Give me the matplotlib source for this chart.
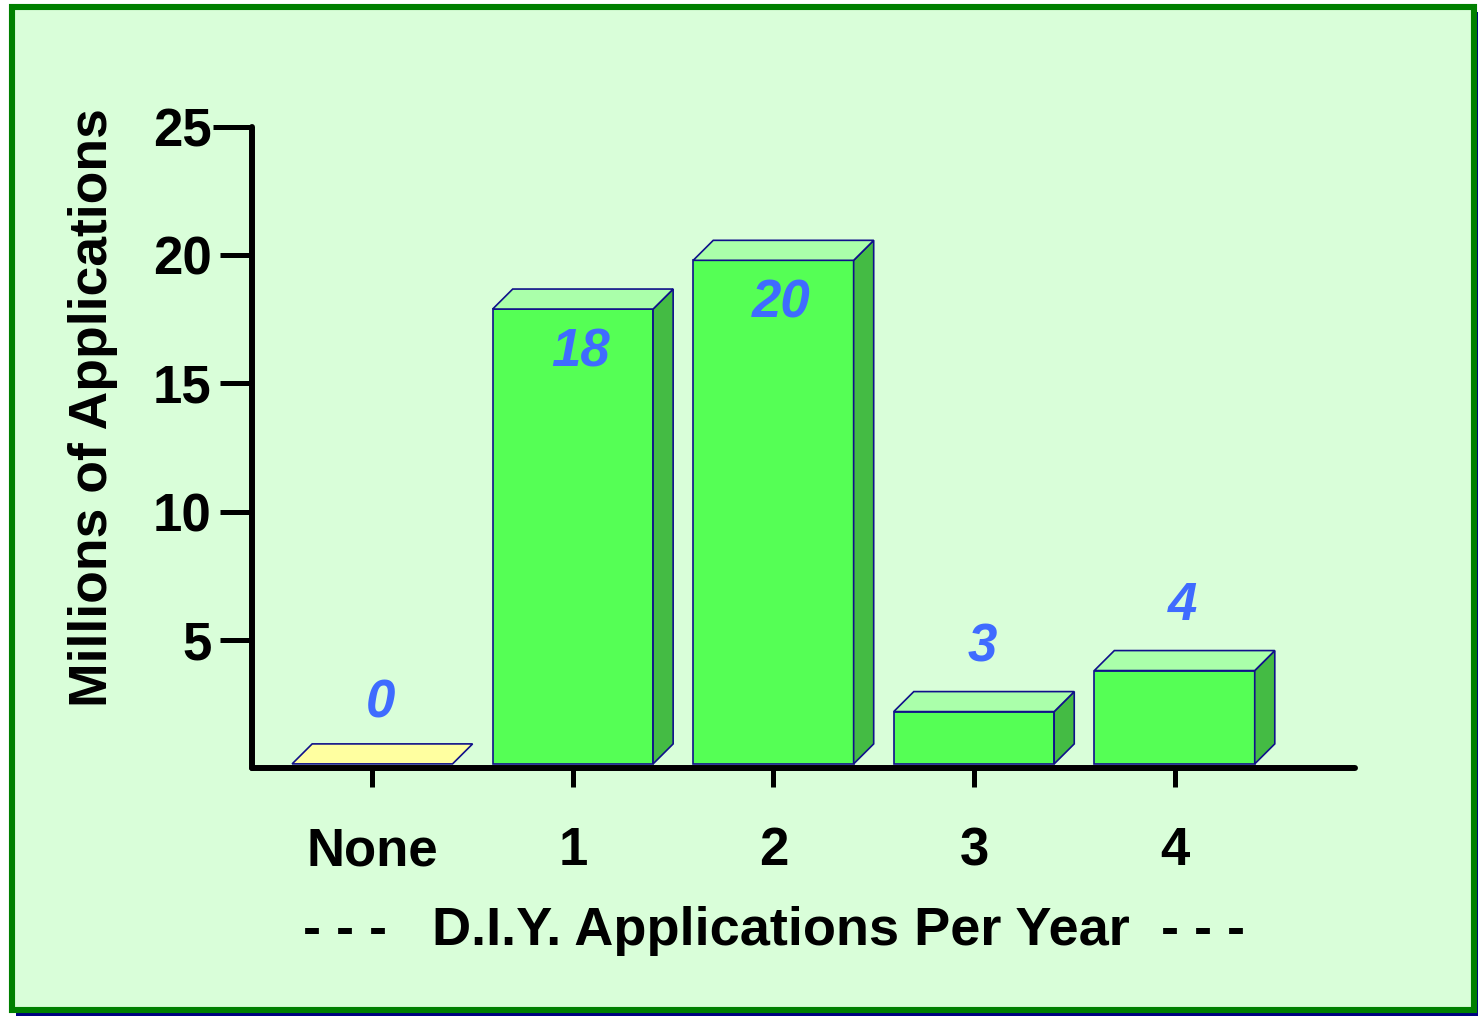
import matplotlib
matplotlib.use("Agg")
import matplotlib.pyplot as plt
from matplotlib.patches import Rectangle, Polygon

# ---- data ----
categories = ["None", "1", "2", "3", "4"]
bar_heights = [0.0, 17.9, 19.8, 2.2, 3.8]   # bar tops as drawn
value_labels = ["0", "18", "20", "3", "4"]   # printed values
label_inside = [False, True, True, False, False]
y_ticks = [5, 10, 15, 20, 25]
x_title = "D.I.Y. Applications Per Year"
x_title_deco = "- - -"
y_title = "Millions of Applications"

W, H, DPI = 1479, 1017, 100
FONT = "Liberation Sans"
plt.rcParams['font.family'] = [FONT, 'DejaVu Sans']

fig = plt.figure(figsize=(W / DPI, H / DPI), dpi=DPI, facecolor="white")

px = lambda x: x / W
py = lambda y: 1 - y / H
shadow = Rectangle((px(16), py(1016)), px(1478 - 16), (1016 - 12) / H,
                   transform=fig.transFigure, facecolor="#000080",
                   edgecolor="none", zorder=0)
panel = Rectangle((px(12), py(1009.5)), px(1474 - 12), (1009.5 - 7) / H,
                  transform=fig.transFigure, facecolor="#D9FED9",
                  edgecolor="#008000", linewidth=4.4, zorder=1)
fig.patches.extend([shadow, panel])

ax = fig.add_axes([252 / W, (H - 768) / H, (1355 - 252) / W, (768 - 127) / H])
ax.set_facecolor("none")
ax.set_zorder(2)
ax.set_xlim(-0.6, 4.9)
ax.set_ylim(0, 25)

# 3D bar geometry
bw = 0.8
dx = 0.1
dy = 0.78
base = 0.16
edge = "#10108A"
lw = 1.2
front_c = "#55FF55"
top_c = "#AAFFAA"
side_c = "#44BB44"
zero_c = "#FFFFA0"

for i, h in enumerate(bar_heights):
    x0, x1 = i - bw / 2, i + bw / 2
    top = max(h, base)
    if h > base:
        ax.add_patch(Rectangle((x0, base), bw, h - base, facecolor=front_c, edgecolor=edge,
                               linewidth=lw, zorder=3, clip_on=False))
        ax.add_patch(Polygon([(x1, base), (x1 + dx, base + dy), (x1 + dx, h + dy), (x1, h)],
                             closed=True, facecolor=side_c, edgecolor=edge,
                             linewidth=lw, zorder=3, clip_on=False))
        tc = top_c
    else:
        tc = zero_c
    ax.add_patch(Polygon([(x0, top), (x0 + dx, top + dy), (x1 + dx, top + dy), (x1, top)],
                         closed=True, facecolor=tc, edgecolor=edge,
                         linewidth=lw, zorder=3, clip_on=False))

# value labels
for i, (h, lab, inside) in enumerate(zip(bar_heights, value_labels, label_inside)):
    y = h - 1.7 if inside else h + 2.5
    ax.text(i + 0.04, y, lab, ha="center", va="center", fontsize=38,
            fontweight="bold", fontstyle="italic", color="#3F6BFF", zorder=5)

# axes styling
for s in ["top", "right"]:
    ax.spines[s].set_visible(False)
for s in ["left", "bottom"]:
    ax.spines[s].set_linewidth(4.3)
    ax.spines[s].set_color("black")
    ax.spines[s].set_capstyle("round")
    ax.spines[s].set_zorder(4)

ax.set_yticks(y_ticks)
ax.set_yticklabels([str(t) for t in y_ticks])
ax.set_xticks(range(len(categories)))
ax.set_xticklabels(categories)
ax.tick_params(axis="y", direction="out", length=23, width=3.6, pad=6,
               labelsize=38, color="black")
ax.tick_params(axis="x", direction="out", length=14, width=3.6, pad=28,
               labelsize=38, color="black")
for t in ax.get_xticklabels() + ax.get_yticklabels():
    t.set_fontweight("bold")
# the top tick is a little longer
ax.yaxis.get_major_ticks()[-1].tick1line.set_markersize(28)

fig.text(93 / W, 1 - 408 / H, y_title, rotation=90, ha="center", va="center",
         fontsize=38.5, fontweight="bold", color="black", zorder=5)
fig.text(781 / W, 1 - 931 / H, x_title, ha="center", va="center",
         fontsize=39, fontweight="bold", color="black", zorder=5)
for cx in (345, 1203):
    fig.text(cx / W, 1 - 931 / H, x_title_deco, ha="center", va="center",
             fontsize=39, fontweight="bold", color="black", zorder=5)

fig.savefig("out.png", dpi=DPI, facecolor="white")
